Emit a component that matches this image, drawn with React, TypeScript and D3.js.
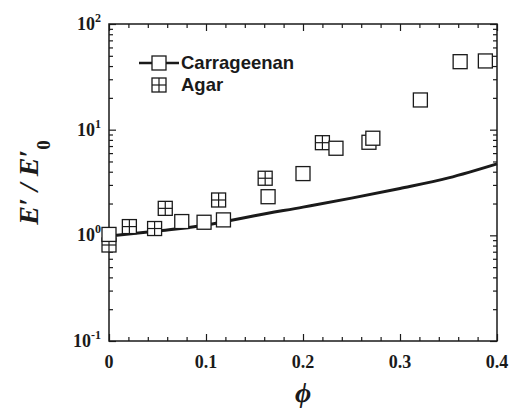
import React, { useEffect, useRef } from "react";
import * as d3 from "d3";

// carrageenan (open squares)
const carrPhi = [0, 0.075, 0.098, 0.118, 0.164, 0.2, 0.234, 0.268, 0.272, 0.321, 0.362, 0.388];
const carrVal = [1.02, 1.35, 1.33, 1.4, 2.32, 3.84, 6.67, 7.6, 8.3, 19.1, 44, 44.7];

// agar (crossed squares)
const agarPhi = [0, 0.021, 0.047, 0.058, 0.113, 0.161, 0.22];
const agarVal = [0.81, 1.21, 1.16, 1.8, 2.16, 3.47, 7.53];

// model curve
const fitPhi = [0.006, 0.05, 0.1, 0.125, 0.15, 0.2, 0.25, 0.3, 0.35, 0.4];
const fitVal = [1.0, 1.1, 1.25, 1.38, 1.53, 1.85, 2.25, 2.78, 3.5, 4.75];

const xMajor = [0, 0.1, 0.2, 0.3, 0.4];
const xMinor = [0.02, 0.04, 0.06, 0.08, 0.12, 0.14, 0.16, 0.18, 0.22, 0.24, 0.26, 0.28, 0.32, 0.34, 0.36, 0.38];
const yMajor = [0.1, 1, 10, 100];
const yExp = ["-1", "0", "1", "2"];

export default function App() {
  const ref = useRef<SVGSVGElement>(null);

  useEffect(() => {
    const width = 510;
    const height = 409;
    const margin = { top: 24, right: 13, bottom: 68, left: 109 };
    const ink = "#1a1a1a";

    const svg = d3.select(ref.current);
    svg.selectAll("*").remove();

    const x = d3.scaleLinear().domain([0, 0.4]).range([margin.left, width - margin.right]);
    const y = d3.scaleLog().domain([0.1, 100]).range([height - margin.bottom, margin.top]);

    const yMinor: number[] = [];
    [0.1, 1, 10].forEach((d) => {
      for (let k = 2; k <= 9; k++) yMinor.push(d * k);
    });

    const x0 = x(0), x1 = x(0.4), yb = y(0.1), yt = y(100);

    // ticks, all pointing inward
    const addAxis = (gen: any, tr: string) => {
      const g = svg.append("g").attr("transform", tr).call(gen);
      g.select(".domain").remove();
      g.selectAll("line").attr("stroke", ink).attr("stroke-width", 1.2);
    };
    addAxis(d3.axisBottom(x).tickValues(xMajor).tickSize(-7).tickFormat(() => ""), `translate(0,${yb})`);
    addAxis(d3.axisBottom(x).tickValues(xMinor).tickSize(-4).tickFormat(() => ""), `translate(0,${yb})`);
    addAxis(d3.axisTop(x).tickValues(xMajor).tickSize(-7).tickFormat(() => ""), `translate(0,${yt})`);
    addAxis(d3.axisTop(x).tickValues(xMinor).tickSize(-4).tickFormat(() => ""), `translate(0,${yt})`);
    addAxis(d3.axisLeft(y).tickValues(yMajor).tickSize(-7).tickFormat(() => ""), `translate(${x0},0)`);
    addAxis(d3.axisLeft(y).tickValues(yMinor).tickSize(-4).tickFormat(() => ""), `translate(${x0},0)`);
    addAxis(d3.axisRight(y).tickValues(yMajor).tickSize(-7).tickFormat(() => ""), `translate(${x1},0)`);
    addAxis(d3.axisRight(y).tickValues(yMinor).tickSize(-4).tickFormat(() => ""), `translate(${x1},0)`);

    svg.append("rect")
      .attr("x", x0).attr("y", yt)
      .attr("width", x1 - x0).attr("height", yb - yt)
      .attr("fill", "none").attr("stroke", ink).attr("stroke-width", 1.5);

    // tick labels
    svg.append("g").selectAll("text")
      .data(xMajor)
      .join("text")
      .attr("x", (d) => x(d))
      .attr("y", yb + 27)
      .attr("text-anchor", "middle")
      .attr("font-family", "Liberation Serif")
      .attr("font-weight", "bold")
      .attr("font-size", 18)
      .attr("fill", ink)
      .text((d) => (d === 0 ? "0" : d3.format(".1f")(d)));

    const yl = svg.append("g").selectAll("text")
      .data(yMajor)
      .join("text")
      .attr("x", x0 - 8)
      .attr("y", (d) => y(d) + 6)
      .attr("text-anchor", "end")
      .attr("font-family", "Liberation Serif")
      .attr("font-weight", "bold")
      .attr("font-size", 18)
      .attr("fill", ink);
    yl.append("tspan").text("10");
    yl.append("tspan").attr("dy", -8).attr("font-size", 12).text((d, i) => yExp[i]);

    // model line
    const line = d3.line<number>()
      .x((d, i) => x(fitPhi[i]))
      .y((d) => y(d))
      .curve(d3.curveMonotoneX);
    svg.append("path")
      .attr("d", line(fitVal))
      .attr("fill", "none")
      .attr("stroke", ink)
      .attr("stroke-width", 3);

    const s = 14;
    const drawSquare = (g: any, cx: number, cy: number, cross: boolean) => {
      g.append("rect")
        .attr("x", cx - s / 2).attr("y", cy - s / 2)
        .attr("width", s).attr("height", s)
        .attr("fill", "white").attr("stroke", ink).attr("stroke-width", 1.3);
      if (cross) {
        g.append("line").attr("x1", cx).attr("x2", cx).attr("y1", cy - s / 2).attr("y2", cy + s / 2)
          .attr("stroke", ink).attr("stroke-width", 1.2);
        g.append("line").attr("x1", cx - s / 2).attr("x2", cx + s / 2).attr("y1", cy).attr("y2", cy)
          .attr("stroke", ink).attr("stroke-width", 1.2);
      }
    };

    const pts = svg.append("g");
    agarPhi.forEach((p, i) => drawSquare(pts, x(p), y(agarVal[i]), true));
    carrPhi.forEach((p, i) => drawSquare(pts, x(p), y(carrVal[i]), false));

    // legend
    const lg = svg.append("g");
    lg.append("line").attr("x1", 139).attr("x2", 179).attr("y1", 63).attr("y2", 63)
      .attr("stroke", ink).attr("stroke-width", 2.5);
    drawSquare(lg, 159, 63, false);
    drawSquare(lg, 159, 85, true);
    lg.append("text").attr("x", 181).attr("y", 69)
      .attr("font-family", "Liberation Sans").attr("font-weight", "bold").attr("font-size", 18.5)
      .attr("fill", ink).text("Carrageenan");
    lg.append("text").attr("x", 181).attr("y", 91)
      .attr("font-family", "Liberation Sans").attr("font-weight", "bold").attr("font-size", 18.5)
      .attr("fill", ink).text("Agar");

    // axis titles
    svg.append("text")
      .attr("x", (x0 + x1) / 2)
      .attr("y", 402)
      .attr("text-anchor", "middle")
      .attr("font-family", "Liberation Serif")
      .attr("font-weight", "bold")
      .attr("font-style", "italic")
      .attr("font-size", 28)
      .attr("fill", ink)
      .text("\u03D5");

    const yt2 = svg.append("text")
      .attr("transform", `translate(38,${(yt + yb) / 2}) rotate(-90)`)
      .attr("text-anchor", "middle")
      .attr("font-family", "Liberation Serif")
      .attr("font-weight", "bold")
      .attr("font-style", "italic")
      .attr("font-size", 28)
      .attr("fill", ink);
    yt2.append("tspan").text("E\u2032 / E\u2032");
    yt2.append("tspan").attr("dy", 12).attr("font-size", 19).attr("font-style", "normal").text("0");
  }, []);

  return (
    <svg
      ref={ref}
      width={510}
      height={409}
      style={{ position: "absolute", left: 0, top: 0, background: "white" }}
    />
  );
}
